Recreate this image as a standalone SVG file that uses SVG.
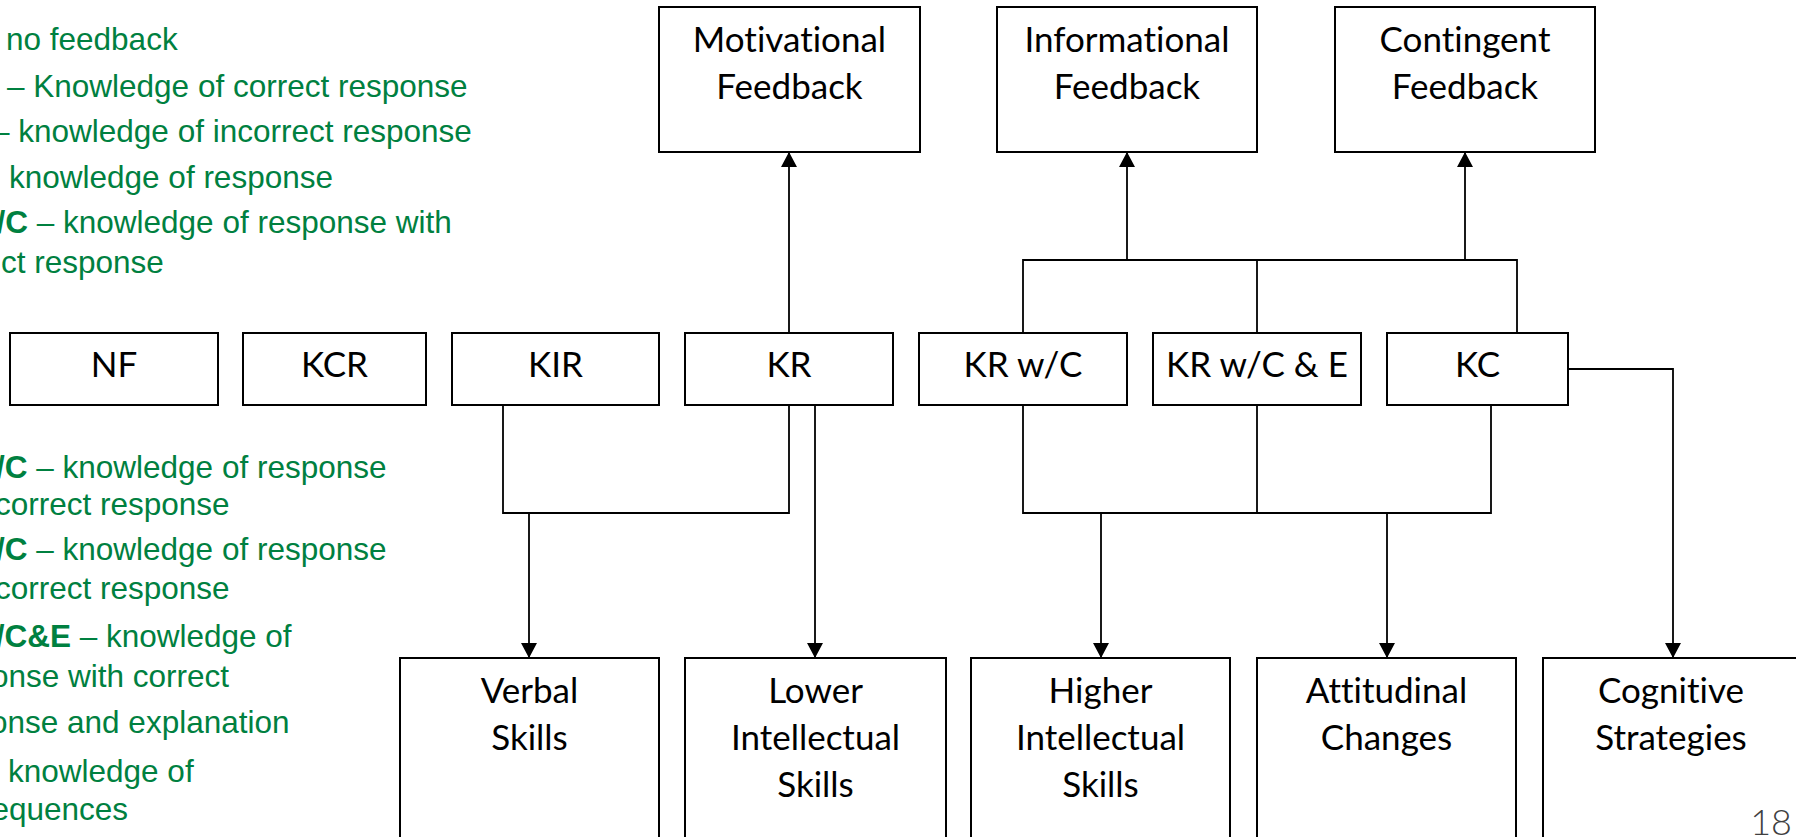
<svg xmlns="http://www.w3.org/2000/svg" width="1796" height="837" viewBox="0 0 1796 837">
<style>
.box{fill:#fff;stroke:#000;stroke-width:2}
.lbl{font-family:Lato,"Liberation Sans",sans-serif;font-size:35px;fill:#000;text-anchor:middle;font-variant-ligatures:none;font-feature-settings:"liga" 0,"dlig" 0}
.note{font-family:"Liberation Sans",Arial,sans-serif;font-size:31.5px;fill:#008040}
.b{font-weight:bold}
.conn{stroke:#000;stroke-width:1.8;fill:none}
.arr{marker-end:url(#arrow)}
.pg{font-family:Lato,"Liberation Sans",sans-serif;font-weight:300;font-size:36px;fill:#404040;text-anchor:end}
</style>
<defs>
<marker id="arrow" markerUnits="userSpaceOnUse" markerWidth="16" markerHeight="16" viewBox="0 0 16 16" refX="15" refY="8" orient="auto">
<path d="M0,0 L15,8 L0,16 z" fill="#000"/>
</marker>
</defs>
<rect width="1796" height="837" fill="#fff"/>

<g id="notes">
<text class="note" x="6" y="50">no feedback</text>
<text class="note" x="7" y="97">– Knowledge of correct response</text>
<text class="note" x="-8" y="142">– knowledge of incorrect response</text>
<text class="note" x="9" y="188">knowledge of response</text>
<text class="note" x="-3.5" y="233"><tspan class="b">/C</tspan> – knowledge of response with</text>
<text class="note" x="1" y="273">ct response</text>
<text class="note" x="-4" y="478"><tspan class="b">/C</tspan> – knowledge of response</text>
<text class="note" x="-5" y="515">correct response</text>
<text class="note" x="-4" y="560"><tspan class="b">/C</tspan> – knowledge of response</text>
<text class="note" x="-5" y="599">correct response</text>
<text class="note" x="-4.3" y="647"><tspan class="b">/C&amp;E</tspan> – knowledge of</text>
<text class="note" x="-9" y="687">onse with correct</text>
<text class="note" x="-10" y="733">onse and explanation</text>
<text class="note" x="8" y="782">knowledge of</text>
<text class="note" x="-8.6" y="820">equences</text>
</g>

<g id="connectors">
<path class="conn arr" d="M789,333 V152"/>
<path class="conn" d="M1023,333 V260 H1517 V333"/>
<path class="conn" d="M1257,260 V333"/>
<path class="conn arr" d="M1127,260 V152"/>
<path class="conn arr" d="M1465,260 V152"/>
<path class="conn" d="M503,405 V513 H789 V405"/>
<path class="conn arr" d="M529,513 V658"/>
<path class="conn arr" d="M815,405 V658"/>
<path class="conn" d="M1023,405 V513 H1491 V405"/>
<path class="conn" d="M1257,405 V513"/>
<path class="conn arr" d="M1101,513 V658"/>
<path class="conn arr" d="M1387,513 V658"/>
<path class="conn arr" d="M1568,369 H1673 V658"/>
</g>

<g id="motivational"><rect class="box" x="659" y="7" width="261" height="145"/><text class="lbl" x="789.5" y="52">Motivational</text><text class="lbl" x="789.5" y="99">Feedback</text></g>
<g id="informational"><rect class="box" x="997" y="7" width="260" height="145"/><text class="lbl" x="1127" y="52">Informational</text><text class="lbl" x="1127" y="99">Feedback</text></g>
<g id="contingent"><rect class="box" x="1335" y="7" width="260" height="145"/><text class="lbl" x="1465" y="52">Contingent</text><text class="lbl" x="1465" y="99">Feedback</text></g>

<g id="nf"><rect class="box" x="10" y="333" width="208" height="72"/><text class="lbl" x="114" y="377">NF</text></g>
<g id="kcr"><rect class="box" x="243" y="333" width="183" height="72"/><text class="lbl" x="334.5" y="377">KCR</text></g>
<g id="kir"><rect class="box" x="452" y="333" width="207" height="72"/><text class="lbl" x="555.5" y="377">KIR</text></g>
<g id="kr"><rect class="box" x="685" y="333" width="208" height="72"/><text class="lbl" x="789" y="377">KR</text></g>
<g id="krwc"><rect class="box" x="919" y="333" width="208" height="72"/><text class="lbl" x="1023" y="377">KR w/C</text></g>
<g id="krwce"><rect class="box" x="1153" y="333" width="208" height="72"/><text class="lbl" x="1257" y="377">KR w/C &amp; E</text></g>
<g id="kc"><rect class="box" x="1387" y="333" width="181" height="72"/><text class="lbl" x="1477.5" y="377">KC</text></g>

<g id="verbal"><rect class="box" x="400" y="658" width="259" height="190"/><text class="lbl" x="529.5" y="703">Verbal</text><text class="lbl" x="529.5" y="750">Skills</text></g>
<g id="lower"><rect class="box" x="685" y="658" width="261" height="190"/><text class="lbl" x="815.5" y="703">Lower</text><text class="lbl" x="815.5" y="750">Intellectual</text><text class="lbl" x="815.5" y="797">Skills</text></g>
<g id="higher"><rect class="box" x="971" y="658" width="259" height="190"/><text class="lbl" x="1100.5" y="703">Higher</text><text class="lbl" x="1100.5" y="750">Intellectual</text><text class="lbl" x="1100.5" y="797">Skills</text></g>
<g id="attitudinal"><rect class="box" x="1257" y="658" width="259" height="190"/><text class="lbl" x="1386.5" y="703">Attitudinal</text><text class="lbl" x="1386.5" y="750">Changes</text></g>
<g id="cognitive"><rect class="box" x="1543" y="658" width="259" height="190"/><text class="lbl" x="1671" y="703">Cognitive</text><text class="lbl" x="1671" y="750">Strategies</text></g>

<text class="pg" x="1792" y="835">18</text>
</svg>
